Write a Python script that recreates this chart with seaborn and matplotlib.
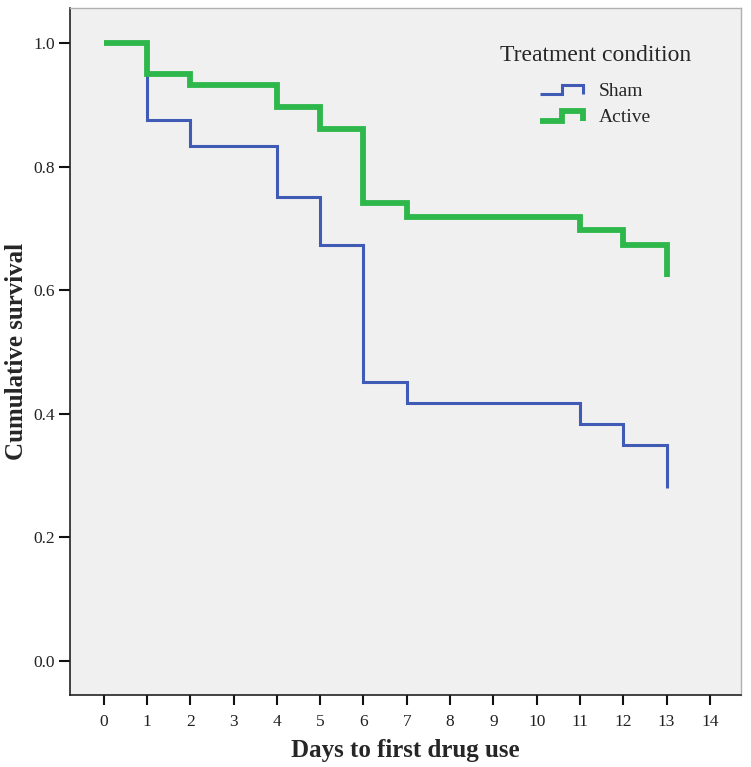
import matplotlib
matplotlib.use("Agg")
import matplotlib.pyplot as plt
from matplotlib.lines import Line2D
from matplotlib.legend_handler import HandlerBase
import seaborn as sns
import pandas as pd

# ---- data ----
days = [0, 1, 2, 4, 5, 6, 7, 11, 12, 13]
sham = [1.0, 0.875, 0.833, 0.75, 0.673, 0.452, 0.417, 0.383, 0.349, 0.28]
active = [1.0, 0.95, 0.932, 0.897, 0.861, 0.741, 0.718, 0.697, 0.673, 0.621]
groups = ["Sham", "Active"]
x_ticks = list(range(0, 15))
y_ticks = [0.0, 0.2, 0.4, 0.6, 0.8, 1.0]

colors = {"Sham": "#3f5bb5", "Active": "#2eb84b"}
widths = {"Sham": 2.2, "Active": 4.2}

rows = []
for g, vals in zip(groups, [sham, active]):
    for d, v in zip(days, vals):
        rows.append({"day": d, "surv": v, "group": g})
df = pd.DataFrame(rows)

sns.set_theme(style="white")
plt.rcParams["font.family"] = ["Liberation Serif", "DejaVu Serif"]

fig = plt.figure(figsize=(7.51, 7.67), dpi=100)
ax = fig.add_axes([70 / 751, 1 - 695 / 767, (741 - 70) / 751, (695 - 8) / 767])
ax.set_facecolor("#f0f0f0")

for g in groups:
    sub = df[df["group"] == g]
    sns.lineplot(data=sub, x="day", y="surv", ax=ax, color=colors[g],
                 linewidth=widths[g], drawstyle="steps-post",
                 estimator=None, legend=False, solid_joinstyle="miter",
                 solid_capstyle="butt")

ax.set_xlim(-0.778, 14.72)
ax.set_ylim(-0.055, 1.0566)
ax.set_xticks(x_ticks)
ax.set_xticklabels([str(t) for t in x_ticks])
ax.set_yticks(y_ticks)
ax.set_yticklabels([f"{t:.1f}" for t in y_ticks])
ax.tick_params(axis="both", which="major", bottom=True, left=True,
               direction="out", width=1.5, color="#111111",
               labelsize=12.5, labelcolor="#222222")
ax.tick_params(axis="x", length=7.5, pad=6)
ax.tick_params(axis="y", length=8, pad=3)
ax.set_xlabel("Days to first drug use", fontsize=18, fontweight="bold")
ax.set_ylabel("Cumulative survival", fontsize=18, fontweight="bold")
ax.xaxis.set_label_coords(0.5, -(739 - 695) / 687)
ax.yaxis.set_label_coords(-(70 - 28) / 671, 0.5)

for s in ["left", "bottom"]:
    ax.spines[s].set_color("#222222")
    ax.spines[s].set_linewidth(1.2)
for s in ["top", "right"]:
    ax.spines[s].set_color("#b0b0b0")
    ax.spines[s].set_linewidth(1.0)


class StepHandler(HandlerBase):
    def __init__(self, color, lw):
        super().__init__()
        self.color = color
        self.lw = lw

    def create_artists(self, legend, orig_handle, xdescent, ydescent,
                       width, height, fontsize, trans):
        x0 = -xdescent
        xm = x0 + width * 0.5
        x1 = x0 + width
        lo = 0.05 * height - ydescent
        hi = 0.85 * height - ydescent
        xs = [x0, xm, xm, x1, x1]
        ys = [lo, lo, hi, hi, lo]
        ln = Line2D(xs, ys, color=self.color, linewidth=self.lw,
                    solid_joinstyle="miter", solid_capstyle="butt",
                    transform=trans)
        return [ln]


h_sham = Line2D([], [], color=colors["Sham"])
h_act = Line2D([], [], color=colors["Active"])
leg = ax.legend([h_sham, h_act], groups, title="Treatment condition",
                handler_map={h_sham: StepHandler(colors["Sham"], widths["Sham"]),
                             h_act: StepHandler(colors["Active"], widths["Active"])},
                frameon=False, fontsize=14, title_fontsize=17,
                loc="upper left", bbox_to_anchor=((500 - 70) / 671, 1 - (45 - 8) / 687),
                handlelength=2.2, handleheight=0.6, handletextpad=0.8,
                labelspacing=0.5, borderaxespad=0, borderpad=0)
leg._legend_box.align = "center"
leg._legend_box.sep = 12

fig.savefig("out.png", dpi=100)
